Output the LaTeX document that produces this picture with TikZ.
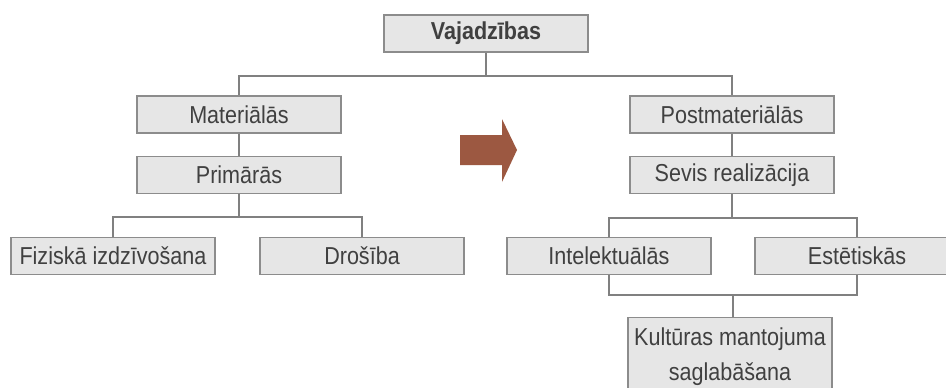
\documentclass[tikz,border=0pt]{standalone}
\usepackage{fontspec}
\setmainfont{Liberation Sans}[FakeStretch=0.88]
\definecolor{boxfill}{HTML}{E6E6E6}
\definecolor{boxline}{HTML}{8C8C8C}
\definecolor{txt}{HTML}{404040}
\definecolor{conncol}{HTML}{808080}
\definecolor{arrowcol}{HTML}{9C5841}
\begin{document}
\begin{tikzpicture}[x=1pt,y=-1pt,
  box/.style={draw=boxline,fill=boxfill,line width=1.2pt,minimum width=204pt,minimum height=37pt,inner sep=0pt,text=txt,font=\fontsize{24.5}{35}\selectfont},
  conn/.style={draw=conncol,line width=2.8pt}]
\useasboundingbox (0,0) rectangle (946,388);
\clip (0,0) rectangle (946,388);
\fill[white] (0,0) rectangle (946,388);
% connectors first
\coordinate (t) at (486,76);
\coordinate (p) at (239,217);
\coordinate (s) at (732,218);
\coordinate (k) at (733,295);
\node[box,font=\fontsize{24.5}{35}\selectfont\bfseries] (vaj) at (486,33.5) {Vajadzības};
\node[box] (mat) at (239,114.5) {Materiālās};
\node[box] (prim) at (239,175) {Primārās};
\node[box] (fiz) at (113,256) {Fiziskā izdzīvošana};
\node[box] (dro) at (362,256) {Drošība};
\node[box] (post) at (732,114.5) {Postmateriālās};
\node[box] (sev) at (732,175) {Sevis realizācija};
\node[box] (int) at (609,256) {Intelektuālās};
\node[box] (est) at (857,256) {Estētiskās};
\node[box,minimum height=90pt,anchor=north,align=center,text depth=0pt] (kul) at (730,317) {};
\node[text=txt,font=\fontsize{24.5}{35}\selectfont,align=center,anchor=north] (kultext) at (730,324) {Kultūras mantojuma\\saglabāšana};
\draw[conn] (vaj.south) -- (t);
\draw[conn] (mat.north) |- (t) -| (post.north);
\draw[conn] (mat.south) -- (prim.north);
\draw[conn] (prim.south) -- (p);
\draw[conn] (fiz.north) |- (p) -| (dro.north);
\draw[conn] (post.south) -- (sev.north);
\draw[conn] (sev.south) -- (s);
\draw[conn] (int.north) |- (s) -| (est.north);
\draw[conn] (int.south) |- (k) -| (est.south);
\draw[conn] (k) -- (kul.north -| k);
\fill[arrowcol] (460,135) -- (502,135) -- (502,119) -- (517,150) -- (502,182) -- (502,165) -- (460,165) -- cycle;
\end{tikzpicture}
\end{document}
